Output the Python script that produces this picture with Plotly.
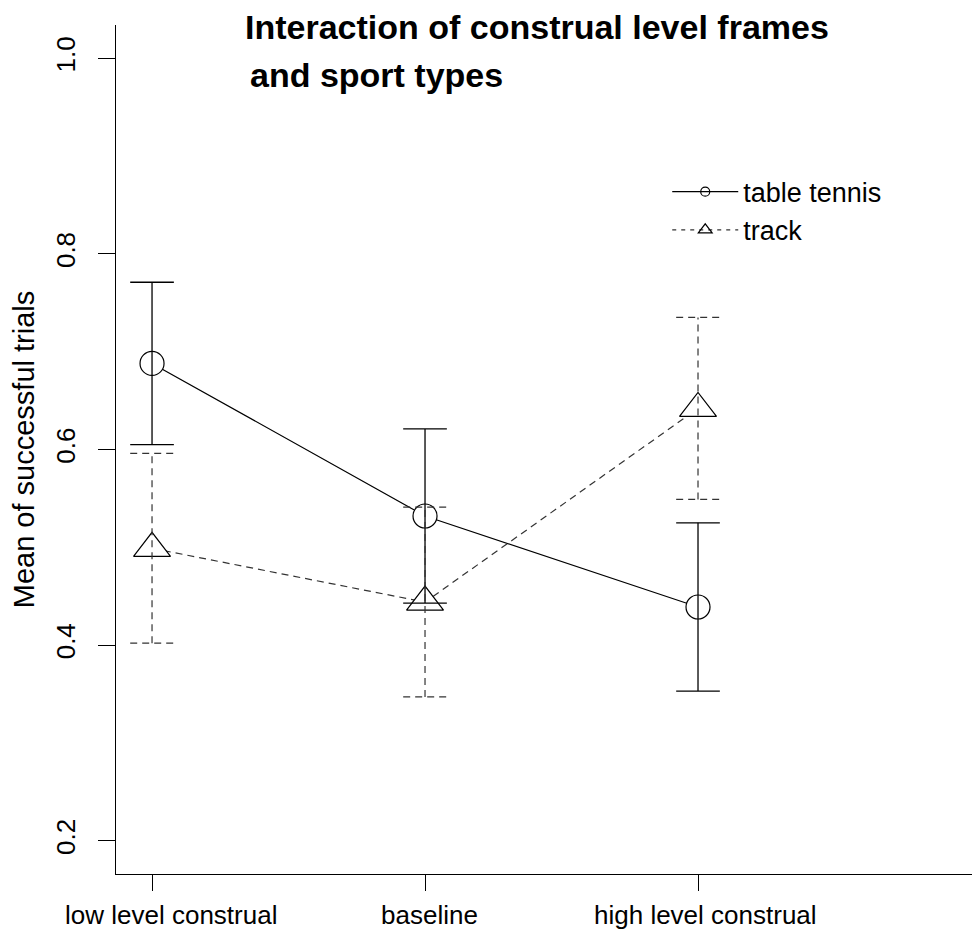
import plotly.graph_objects as go

categories = ["low level construal", "baseline", "high level construal"]
tt_mean = [0.688, 0.532, 0.439]
tt_err = [0.083, 0.089, 0.086]
tr_mean = [0.499, 0.444, 0.642]
tr_err = [0.097, 0.097, 0.093]
y_ticks = [0.2, 0.4, 0.6, 0.8, 1.0]
y_tick_text = ["0.2", "0.4", "0.6", "0.8", "1.0"]

xpos = list(range(1, len(categories) + 1))
label_xshift = [19, 4, 7]   # label placement offsets (px), as in the reference
CAP = 0.08
FONT = "Liberation Sans, Arial, sans-serif"
DASH = "7px,5px"
DCOL = "#333"


def errbar_xy(xs, means, errs):
    ex, ey = [], []
    for x, m, e in zip(xs, means, errs):
        lo, hi = m - e, m + e
        ex += [x, x, None, x - CAP, x + CAP, None, x - CAP, x + CAP, None]
        ey += [lo, hi, None, hi, hi, None, lo, lo, None]
    return ex, ey


fig = go.Figure()

# connecting lines
fig.add_trace(go.Scatter(x=xpos, y=tt_mean, mode="lines",
                         line=dict(color="black", width=1.2), showlegend=False, hoverinfo="skip"))
fig.add_trace(go.Scatter(x=xpos, y=tr_mean, mode="lines",
                         line=dict(color=DCOL, width=1.2, dash=DASH), showlegend=False, hoverinfo="skip"))

# markers
fig.add_trace(go.Scatter(x=xpos, y=tt_mean, mode="markers",
                         marker=dict(symbol="circle", size=24, color="white",
                                     line=dict(color="black", width=1.2)),
                         showlegend=False))
fig.add_trace(go.Scatter(x=xpos, y=tr_mean, mode="markers",
                         marker=dict(symbol="triangle-up", size=32, color="white",
                                     line=dict(color="black", width=1.2)),
                         showlegend=False))

# error bars
ex, ey = errbar_xy(xpos, tt_mean, tt_err)
fig.add_trace(go.Scatter(x=ex, y=ey, mode="lines", line=dict(color="black", width=1.3),
                         showlegend=False, hoverinfo="skip"))
ex, ey = errbar_xy(xpos, tr_mean, tr_err)
fig.add_trace(go.Scatter(x=ex, y=ey, mode="lines", line=dict(color=DCOL, width=1.2, dash=DASH),
                         showlegend=False, hoverinfo="skip"))

# legend entries
fig.add_trace(go.Scatter(x=[None], y=[None], mode="lines+markers", name="table tennis",
                         line=dict(color="black", width=1.2),
                         marker=dict(symbol="circle-open", size=9, color="black", line=dict(width=1.2))))
fig.add_trace(go.Scatter(x=[None], y=[None], mode="lines+markers", name="track",
                         line=dict(color=DCOL, width=1.2, dash="4px,5px"),
                         marker=dict(symbol="triangle-up-open", size=12, color="black", line=dict(width=1.2))))

fig.add_annotation(text="<b>Interaction of construal level frames</b>", xref="paper", yref="paper",
                   x=0.147, y=0.9975, xanchor="left", yanchor="middle", showarrow=False,
                   font=dict(family=FONT, size=34, color="black"))
fig.add_annotation(text="<b>and sport types</b>", xref="paper", yref="paper",
                   x=0.153, y=0.941, xanchor="left", yanchor="middle", showarrow=False,
                   font=dict(family=FONT, size=34, color="black"))

# category labels under the x ticks
for xp, lab, dx in zip(xpos, categories, label_xshift):
    fig.add_annotation(text=lab, xref="x", yref="paper", x=xp, y=0, xanchor="center",
                       yanchor="middle", yshift=-41, xshift=dx, showarrow=False,
                       font=dict(family=FONT, size=26, color="black"))

fig.update_layout(
    width=972, height=924,
    margin=dict(l=108, r=0, t=17, b=58),
    paper_bgcolor="white", plot_bgcolor="white",
    font=dict(family=FONT, size=27, color="black"),
    legend=dict(x=0.638, y=0.832, xanchor="left", yanchor="top", bgcolor="rgba(0,0,0,0)",
                itemwidth=66, font=dict(size=27), tracegroupgap=0),
    xaxis=dict(range=[0.868, 4.033], tickmode="array", tickvals=xpos, ticktext=categories,
               showticklabels=False,
               showline=True, linecolor="black", linewidth=1.3, ticks="outside", ticklen=16,
               tickcolor="black", tickwidth=1.3, showgrid=False, zeroline=False),
    yaxis=dict(range=[0.166, 1.034], tickmode="array", tickvals=y_ticks, ticktext=y_tick_text,
               showline=True, linecolor="black", linewidth=1.3, ticks="outside", ticklen=17,
               tickcolor="black", tickwidth=1.3, showgrid=False, zeroline=False,
               tickangle=-90, ticklabelstandoff=12, tickfont=dict(size=26),
               title=dict(text="Mean of successful trials", font=dict(size=29), standoff=20)),
)

fig.write_html("out.html")
